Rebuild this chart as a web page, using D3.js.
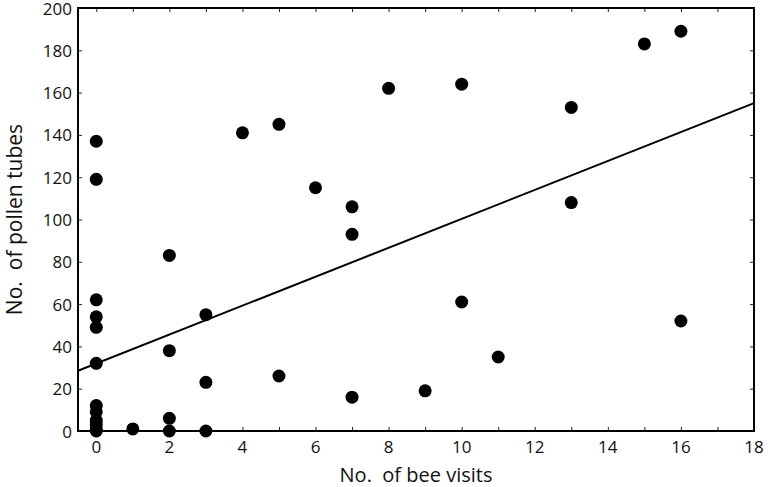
<!DOCTYPE html>
<html>
<head>
<meta charset="utf-8">
<script src="https://cdn.jsdelivr.net/npm/d3@7"></script>
<style>
  body { margin: 0; background: #fff; }
  text { font-family: "Open Sans", sans-serif; fill: #111; }
</style>
</head>
<body>
<svg id="chart" width="768" height="487"></svg>
<script>
// bee visits (x) and pollen tubes (y)
const beeVisits = [0, 0, 0, 0, 0, 0, 0, 0, 0, 0, 0, 0,
  1, 2, 2, 2, 2, 3, 3, 3, 4, 5, 5, 6, 7, 7, 7, 8, 9, 10, 10, 11, 13, 13, 15, 16, 16];
const pollenTubes = [137, 119, 62, 54, 49, 32, 12, 9, 5, 3, 1, 0,
  1, 83, 38, 6, 0, 55, 23, 0, 141, 145, 26, 115, 106, 93, 16, 162, 19, 164, 61, 35, 153, 108, 183, 189, 52];
// fitted line: intercept, slope
const fitLine = [31.9, 6.84];
const xTicks = [0, 2, 4, 6, 8, 10, 12, 14, 16, 18];
const yTicks = [0, 20, 40, 60, 80, 100, 120, 140, 160, 180, 200];

const svg = d3.select("#chart");
const plotLeft = 78, plotRight = 754, plotTop = 8, plotBottom = 431;

const x = d3.scaleLinear().domain([-0.5, 18]).range([plotLeft, plotRight]);
const y = d3.scaleLinear().domain([0, 200]).range([plotBottom, plotTop]);

const minorX = d3.range(0, 19);

// ticks pointing inward on all four sides
svg.append("g")
   .attr("transform", "translate(0," + plotBottom + ")")
   .call(d3.axisTop(x).tickValues(minorX).tickSize(4).tickFormat(""))
   .call(g => g.select(".domain").remove());
svg.append("g")
   .attr("transform", "translate(0," + plotTop + ")")
   .call(d3.axisBottom(x).tickValues(minorX).tickSize(4).tickFormat(""))
   .call(g => g.select(".domain").remove());
svg.append("g")
   .attr("transform", "translate(" + plotLeft + ",0)")
   .call(d3.axisRight(y).tickValues(yTicks).tickSize(4).tickFormat(""))
   .call(g => g.select(".domain").remove());
svg.append("g")
   .attr("transform", "translate(" + plotRight + ",0)")
   .call(d3.axisLeft(y).tickValues(yTicks).tickSize(4).tickFormat(""))
   .call(g => g.select(".domain").remove());
svg.selectAll(".tick line").attr("stroke", "#222").attr("stroke-width", 1);

// tick labels
svg.append("g").selectAll("text")
   .data(xTicks)
   .enter().append("text")
   .attr("x", d => x(d))
   .attr("y", plotBottom + 22)
   .attr("text-anchor", "middle")
   .attr("font-size", "17px")
   .text(d => d);

svg.append("g").selectAll("text")
   .data(yTicks)
   .enter().append("text")
   .attr("x", plotLeft - 6)
   .attr("y", d => y(d) + 6.5)
   .attr("text-anchor", "end")
   .attr("font-size", "17px")
   .text(d => d);

// regression line
svg.append("line")
   .attr("x1", x(-0.5))
   .attr("y1", y(fitLine[0] + fitLine[1] * -0.5))
   .attr("x2", x(18))
   .attr("y2", y(fitLine[0] + fitLine[1] * 18))
   .attr("stroke", "#000")
   .attr("stroke-width", 2);

// points
svg.append("g").selectAll("circle")
   .data(beeVisits)
   .enter().append("circle")
   .attr("cx", d => x(d))
   .attr("cy", (d, i) => y(pollenTubes[i]))
   .attr("r", 6.5)
   .attr("fill", "#000");

// frame
svg.append("rect")
   .attr("x", plotLeft)
   .attr("y", plotTop)
   .attr("width", plotRight - plotLeft)
   .attr("height", plotBottom - plotTop)
   .attr("fill", "none")
   .attr("stroke", "#000")
   .attr("stroke-width", 2);

// axis titles
svg.append("text")
   .attr("x", (plotLeft + plotRight) / 2)
   .attr("y", 482)
   .attr("text-anchor", "middle")
   .attr("font-size", "20px")
   .attr("xml:space", "preserve")
   .text("No.  of bee visits");

svg.append("text")
   .attr("transform", "translate(22," + ((plotTop + plotBottom) / 2) + ") rotate(-90)")
   .attr("text-anchor", "middle")
   .attr("font-size", "21px")
   .attr("xml:space", "preserve")
   .text("No.  of pollen tubes");
</script>
</body>
</html>
